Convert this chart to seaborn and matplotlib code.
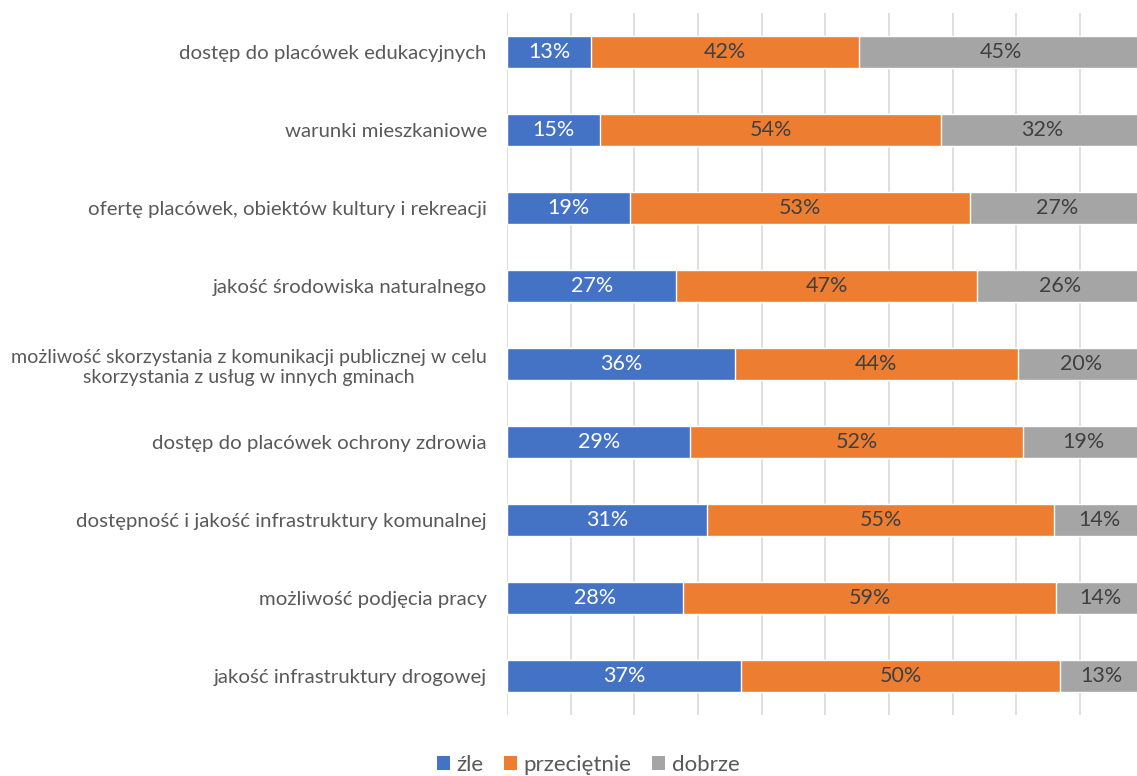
import matplotlib
matplotlib.use("Agg")
import numpy as np
import pandas as pd
import matplotlib.pyplot as plt
import seaborn as sns
from matplotlib.patches import Patch

categories = [
    "dostęp do placówek edukacyjnych",
    "warunki mieszkaniowe",
    "ofertę placówek, obiektów kultury i rekreacji",
    "jakość środowiska naturalnego",
    "możliwość skorzystania z komunikacji publicznej w celu\nskorzystania z usług w innych gminach",
    "dostęp do placówek ochrony zdrowia",
    "dostępność i jakość infrastruktury komunalnej",
    "możliwość podjęcia pracy",
    "jakość infrastruktury drogowej",
]
zle = [13.2, 14.6, 19.3, 26.6, 35.8, 28.8, 31.4, 27.6, 36.8]
przecietnie = [42.1, 53.6, 53.4, 47.3, 44.4, 52.2, 54.6, 58.7, 50.1]
dobrze = [44.7, 31.8, 27.3, 26.1, 19.8, 19.0, 14.0, 13.7, 13.1]
series_names = ["źle", "przeciętnie", "dobrze"]
colors = ["#4472C4", "#ED7D31", "#A5A5A5"]

sns.set_style("white")
plt.rcParams['font.family'] = ['Lato', 'DejaVu Sans']

df = pd.DataFrame({"cat": categories, "zle": zle, "przec": przecietnie, "dobrze": dobrze})
df["c1"] = df["zle"] / 100
df["c2"] = (df["zle"] + df["przec"]) / 100
df["c3"] = (df["zle"] + df["przec"] + df["dobrze"]) / 100

fig = plt.figure(figsize=(11.37, 7.76), dpi=100)
ax = fig.add_axes([507 / 1137, 1 - 715 / 776, 636.6 / 1137, 702 / 776])

# layered cumulative bars: total first, then covered by shorter stacks
sns.barplot(data=df, x="c3", y="cat", orient="h", color=colors[2], width=0.41,
            saturation=1, ax=ax, zorder=2)
sns.barplot(data=df, x="c2", y="cat", orient="h", color=colors[1], width=0.41,
            saturation=1, ax=ax, zorder=3)
sns.barplot(data=df, x="c1", y="cat", orient="h", color=colors[0], width=0.41,
            saturation=1, ax=ax, zorder=4)

ax.set_xlim(0, 1)
ax.set_ylim(len(categories) - 0.5, -0.5)
ax.set_xticks(np.arange(0, 1.01, 0.1))
ax.set_xticklabels([])
ax.tick_params(axis="both", length=0)
ax.grid(axis="x", color="#D9D9D9", linewidth=1.2, zorder=0)
ax.set_axisbelow(True)
for s in ax.spines.values():
    s.set_visible(False)
ax.set_xlabel("")
ax.set_ylabel("")
ax.set_yticks(range(len(categories)))
ax.set_yticklabels(categories, fontsize=14.7, color="#595959", multialignment="center",
                   linespacing=1.25)
ax.tick_params(axis="y", pad=14.5)
# the two-line label is a bit wider in this font, shrink it slightly
ax.get_yticklabels()[4].set_fontsize(14.1)

# segment labels
for i, row in df.iterrows():
    starts = [0, row["c1"], row["c2"]]
    ends = [row["c1"], row["c2"], row["c3"]]
    vals = [row["zle"], row["przec"], row["dobrze"]]
    for j in range(3):
        ax.text((starts[j] + ends[j]) / 2, i, f"{vals[j]:.0f}%", ha="center", va="center",
                fontsize=15.5, color="white" if j == 0 else "#404040", zorder=6)

handles = [Patch(facecolor=c, edgecolor="none") for c in colors]
fig.legend(handles, series_names, loc="center", bbox_to_anchor=(588 / 1137, 1 - 765 / 776),
           ncol=3, frameon=False, fontsize=16, handlelength=0.6, handleheight=0.6,
           handletextpad=0.3, columnspacing=0.9, labelcolor="#595959")

fig.savefig("out.png", dpi=100)
